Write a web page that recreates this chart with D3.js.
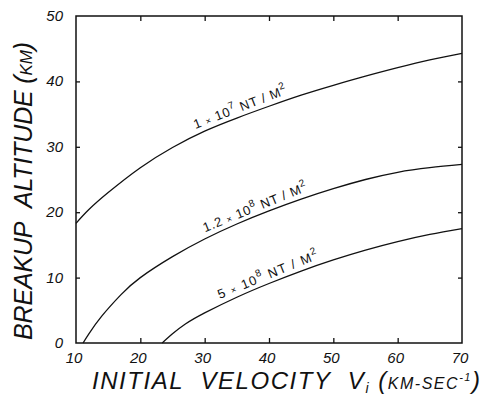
<!DOCTYPE html>
<html>
<head>
<meta charset="utf-8">
<script src="https://cdn.jsdelivr.net/npm/d3@7"></script>
<style>
  body { margin: 0; background: #fff; }
  svg { display: block; }
  text { font-family: "Liberation Sans", "DejaVu Sans", sans-serif; fill: #111; }
</style>
</head>
<body>
<svg id="chart" width="483" height="397"></svg>
<script>
// curves: velocity (km/s) vs breakup altitude (km)
var vel1 = [10, 12, 15, 20, 25, 30, 35, 40, 45, 50, 55, 60, 65, 70];
var alt1 = [18.3, 20.4, 23.0, 26.8, 29.9, 32.4, 34.4, 36.2, 37.9, 39.4, 40.8, 42.1, 43.3, 44.3];
var vel2 = [11.1, 12, 14, 17, 20, 25, 30, 35, 40, 45, 50, 55, 60, 65, 70];
var alt2 = [0, 1.4, 4.1, 7.4, 10.0, 13.2, 15.9, 18.2, 20.2, 22.0, 23.6, 25.0, 26.1, 26.8, 27.3];
var vel3 = [23.4, 25, 27, 30, 35, 40, 45, 50, 55, 60, 65, 70];
var alt3 = [0, 1.4, 2.9, 4.6, 7.0, 9.1, 11.0, 12.7, 14.2, 15.5, 16.6, 17.5];

var curveLabels = [
    { coef: "1", exp: "7", from: 28.9, to: 43.2 },
    { coef: "1.2", exp: "8", from: 30.4, to: 46.4 },
    { coef: "5", exp: "8", from: 32.7, to: 48.1 }
];

var xTicks = [10, 20, 30, 40, 50, 60, 70];
var yTicks = [0, 10, 20, 30, 40, 50];

var svg = d3.select("#chart");
var m = { left: 76, right: 462, top: 16, bottom: 343 };

var x = d3.scaleLinear().domain([10, 70]).range([m.left, m.right]);
var y = d3.scaleLinear().domain([0, 50]).range([m.bottom, m.top]);

var series = [
    d3.zip(vel1, alt1),
    d3.zip(vel2, alt2),
    d3.zip(vel3, alt3)
];

// frame with inward ticks on all four sides
function frame(axis, tr) {
    var g = svg.append("g").attr("transform", tr).call(axis);
    g.select(".domain").remove();
    g.selectAll("line").attr("stroke", "#111").attr("stroke-width", 1.3);
    return g;
}
frame(d3.axisBottom(x).tickValues(xTicks.slice(1, -1)).tickSize(-5).tickFormat(""), "translate(0," + m.bottom + ")");
frame(d3.axisTop(x).tickValues(xTicks.slice(1, -1)).tickSize(-5).tickFormat(""), "translate(0," + m.top + ")");
frame(d3.axisLeft(y).tickValues(yTicks.slice(1, -1)).tickSize(-4).tickFormat(""), "translate(" + m.left + ",0)");
frame(d3.axisRight(y).tickValues(yTicks.slice(1, -1)).tickSize(-4).tickFormat(""), "translate(" + m.right + ",0)");

svg.append("rect")
    .attr("x", m.left).attr("y", m.top)
    .attr("width", m.right - m.left).attr("height", m.bottom - m.top)
    .attr("fill", "none").attr("stroke", "#111").attr("stroke-width", 1.5);

// tick labels
svg.append("g").selectAll("text").data(xTicks).join("text")
    .attr("x", function(d) { return x(d) - 2; })
    .attr("y", 363)
    .attr("text-anchor", "middle")
    .attr("font-size", 15).attr("font-style", "italic")
    .text(function(d) { return d; });

svg.append("g").selectAll("text").data(yTicks).join("text")
    .attr("x", 63)
    .attr("y", function(d) { return y(d) + 5; })
    .attr("text-anchor", "end")
    .attr("font-size", 15).attr("font-style", "italic")
    .text(function(d) { return d; });

var line = d3.line()
    .x(function(d) { return x(d[0]); })
    .y(function(d) { return y(d[1]); })
    .curve(d3.curveNatural);

svg.append("g").selectAll("path").data(series).join("path")
    .attr("d", line)
    .attr("fill", "none")
    .attr("stroke", "#111")
    .attr("stroke-width", 1.3);

// labels rotated along each curve
curveLabels.forEach(function(lab, i) {
    var pts = series[i];
    var at = function(v) {
        return y(d3.scaleLinear().domain(pts.map(function(p) { return p[0]; }))
            .range(pts.map(function(p) { return p[1]; }))(v));
    };
    var x0 = x(lab.from), y0 = at(lab.from), x1 = x(lab.to), y1 = at(lab.to);
    var ang = Math.atan2(y1 - y0, x1 - x0);
    var len = Math.hypot(x1 - x0, y1 - y0);
    var t = svg.append("text")
        .attr("transform", "translate(" + x0 + "," + y0 + ") rotate(" + (ang * 180 / Math.PI) + ") translate(0,-6)")
        .attr("font-size", 13)
        .attr("textLength", len).attr("lengthAdjust", "spacing");
    t.append("tspan").text(lab.coef + " ");
    t.append("tspan").attr("font-size", 9).text("×");
    t.append("tspan").text(" 10");
    t.append("tspan").attr("font-size", 10).attr("dy", -6).text(lab.exp);
    t.append("tspan").attr("dy", 6).text(" NT / M");
    t.append("tspan").attr("font-size", 10).attr("dy", -6).text("2");
});

// axis titles
var yt = svg.append("text")
    .attr("transform", "translate(32,340) rotate(-90)")
    .attr("font-size", 25).attr("font-style", "italic")
    .attr("textLength", 298).attr("lengthAdjust", "spacing");
yt.append("tspan").text("BREAKUP\u00a0\u00a0ALTITUDE\u00a0");
yt.append("tspan").text("(");
yt.append("tspan").attr("font-size", 17).text("KM");
yt.append("tspan").text(")");

var xt = svg.append("text")
    .attr("x", 92).attr("y", 389)
    .attr("font-size", 24).attr("font-style", "italic")
    .attr("textLength", 388).attr("lengthAdjust", "spacing");
xt.append("tspan").text("INITIAL\u00a0 VELOCITY\u00a0 V");
xt.append("tspan").attr("font-size", 14).attr("dy", 4).text("i");
xt.append("tspan").attr("dy", -4).text("\u00a0(");
xt.append("tspan").attr("font-size", 16).text("KM-SEC");
xt.append("tspan").attr("font-size", 11).attr("dy", -8).text("-1");
xt.append("tspan").attr("dy", 8).text(")");
</script>
</body>
</html>
